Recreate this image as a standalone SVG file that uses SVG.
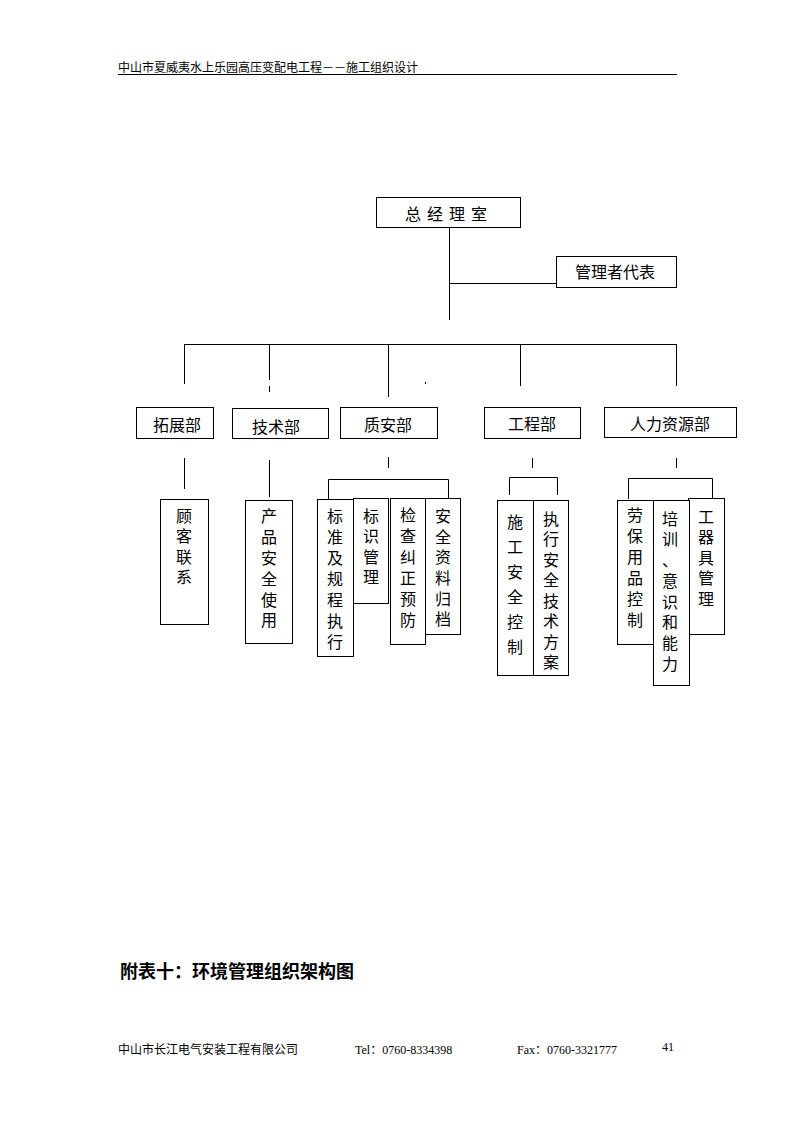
<svg xmlns="http://www.w3.org/2000/svg" width="794" height="1123" viewBox="0 0 794 1123">
<style>
.bx{fill:#fff;stroke:#000;stroke-width:1}
.ln{stroke:#000;stroke-width:1;fill:none}
.t{font-family:"Noto Sans CJK SC","Liberation Sans",sans-serif;font-size:16px;fill:#000;text-anchor:middle}
.hd{font-family:"Noto Sans CJK SC","Liberation Sans",sans-serif;font-size:12px;fill:#000}
.sf{font-family:"Liberation Serif","Noto Sans CJK SC",serif;font-size:12px;fill:#000}
.ti{font-family:"Liberation Serif","Noto Sans CJK SC",serif;font-size:18px;font-weight:bold;fill:#000}
</style>
<rect width="794" height="1123" fill="#fff"/>
<g id="header">
<text class="hd" x="118" y="72">中山市夏威夷水上乐园高压变配电工程－－施工组织设计</text>
<line class="ln" x1="118" y1="74.5" x2="677" y2="74.5"/>
</g>
<g id="connectors">
<path class="ln" d="M449.5 228V320M449.5 283.5H557"/>
<path class="ln" d="M184.5 344.5H676.5M184.5 344V384M269.5 344V380M388.5 344V397M520.5 344V386M676.5 344V386"/>
<path class="ln" d="M269.5 386V392M425.5 382V384"/>
<path class="ln" d="M184.5 458V489M269.5 460V497M388.5 457V468"/>
<path class="ln" d="M328.5 499V479.5H448.5V498"/>
<path class="ln" d="M532.5 458V468M509.5 495V477.5H557.5V495"/>
<path class="ln" d="M676.5 458V468M628.5 499V478.5H712.5V498"/>
</g>
<g id="n_gm">
<rect class="bx" x="376.5" y="197.5" width="144" height="30"/>
<text class="t" y="220"><tspan x="413">总</tspan><tspan x="435">经</tspan><tspan x="457">理</tspan><tspan x="479">室</tspan></text>
</g>
<g id="n_rep">
<rect class="bx" x="556.5" y="256.5" width="120" height="31"/>
<text class="t" x="615" y="278">管理者代表</text>
</g>
<g id="n_tuozhan">
<rect class="bx" x="136.5" y="407.5" width="77" height="31"/>
<text class="t" x="177" y="431">拓展部</text>
</g>
<g id="n_jishu">
<rect class="bx" x="232.5" y="408.5" width="96" height="30"/>
<text class="t" x="276" y="433">技术部</text>
</g>
<g id="n_zhian">
<rect class="bx" x="340.5" y="407.5" width="97" height="31"/>
<text class="t" x="388" y="431">质安部</text>
</g>
<g id="n_gongcheng">
<rect class="bx" x="484.5" y="407.5" width="96" height="31"/>
<text class="t" x="532" y="430">工程部</text>
</g>
<g id="n_renli">
<rect class="bx" x="604.5" y="407.5" width="132" height="30"/>
<text class="t" x="670" y="430">人力资源部</text>
</g>
<g id="n_guke">
<rect class="bx" x="160.5" y="499.5" width="48" height="125"/>
<text class="t" x="184 184 184 184" y="521.5 542 562.5 583">顾客联系</text>
</g>
<g id="n_chanpin">
<rect class="bx" x="245.5" y="500.5" width="47" height="143"/>
<text class="t" x="269 269 269 269 269 269" y="522 543 564 585 606 626">产品安全使用</text>
</g>
<g id="n_biaozhun">
<rect class="bx" x="317.5" y="499.5" width="36" height="157"/>
<text class="t" x="335 335 335 335 335 335 335" y="522 543 564 585 606 627 648">标准及规程执行</text>
</g>
<g id="n_biaoshi">
<rect class="bx" x="353.5" y="498.5" width="35" height="105"/>
<text class="t" x="371 371 371 371" y="522 542 562.5 583">标识管理</text>
</g>
<g id="n_jiancha">
<rect class="bx" x="390.5" y="498.5" width="35" height="146"/>
<text class="t" x="408 408 408 408 408 408" y="521 542 563 584 605 626">检查纠正预防</text>
</g>
<g id="n_anquan">
<rect class="bx" x="425.5" y="498.5" width="35" height="136"/>
<text class="t" x="443 443 443 443 443 443" y="522 542.5 563 584 604.5 625">安全资料归档</text>
</g>
<g id="n_shigong">
<rect class="bx" x="497.5" y="500.5" width="36" height="175"/>
<text class="t" x="515 515 515 515 515 515" y="528 553 578 603 628 653">施工安全控制</text>
</g>
<g id="n_zhixing">
<rect class="bx" x="533.5" y="500.5" width="35" height="175"/>
<text class="t" x="551 551 551 551 551 551 551 551" y="524.5 545 565.5 586 606.5 627 647.5 668">执行安全技术方案</text>
</g>
<g id="n_laobao">
<rect class="bx" x="617.5" y="500.5" width="36" height="144"/>
<text class="t" x="635 635 635 635 635 635" y="521 542 563 584 605 626">劳保用品控制</text>
</g>
<g id="n_gongqiju">
<rect class="bx" x="688.5" y="498.5" width="36" height="136"/>
<text class="t" x="706 706 706 706 706" y="522.5 543 563.5 584 604.5">工器具管理</text>
</g>
<g id="n_peixun">
<rect class="bx" x="653.5" y="500.5" width="36" height="185"/>
<text class="t" x="670 670 670 670 670 670 670 670" y="524.5 545 566 587 607.5 628 649 669.5">培训、意识和能力</text>
</g>
<g id="footer">
<text class="ti" x="120" y="978">附表十：环境管理组织架构图</text>
<text class="hd" x="118" y="1054">中山市长江电气安装工程有限公司</text>
<text class="sf" x="355" y="1054">Tel：0760-8334398</text>
<text class="sf" x="517" y="1054">Fax：0760-3321777</text>
<text class="sf" x="662" y="1051">41</text>
</g>
</svg>
